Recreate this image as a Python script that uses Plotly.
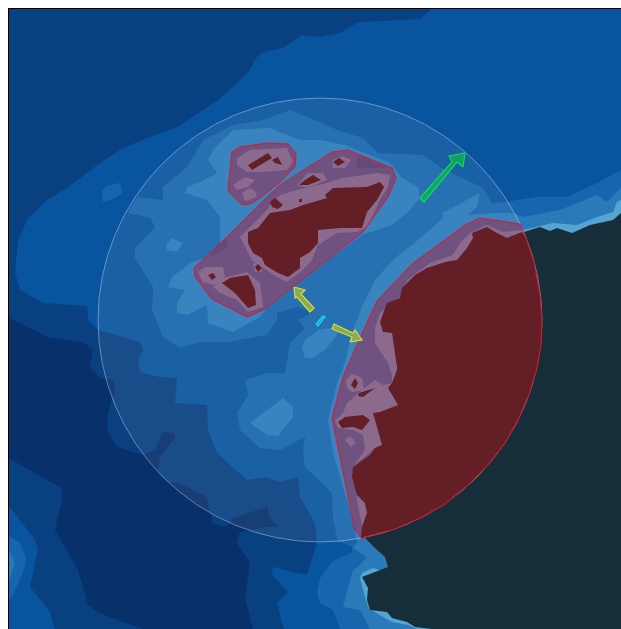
import plotly.graph_objects as go

# Map coordinates of each contour band
depth_1 = [(9,9),(431,9),(420,19),(358,22),(340,33),(320,37),(302,35),(283,48),(263,52),(257,57),(248,72),(233,87),(218,100),(200,112),(177,127),(150,137),(123,148),(100,163),(80,178),(67,188),(47,200),(28,218),(18,240),(15,273),(20,290),(43,303),(87,306),(88,313),(88,320),(98,330),(140,342),(143,350),(138,360),(140,372),(160,377),(177,378),(175,403),(207,405),(208,430),(217,453),(247,480),(267,477),(280,482),(298,477),(300,497),(315,523),(317,542),(307,575),(293,572),(273,567),(272,575),(288,592),(277,603),(283,627),(285,629),(9,629)]
depth_0 = [(9,318),(50,338),(83,342),(93,350),(90,367),(100,378),(113,380),(115,390),(108,413),(107,430),(117,447),(143,455),(155,450),(163,432),(175,433),(175,438),(160,457),(158,473),(167,482),(180,483),(207,497),(210,513),(213,523),(227,527),(233,518),(267,507),(270,518),(278,527),(267,527),(240,532),(236,542),(250,563),(245,597),(253,629),(143,629),(123,622),(100,613),(88,605),(78,570),(55,530),(62,498),(61,488),(9,458)]
corner_2 = [(9,506),(35,540),(38,550),(30,587),(50,612),(55,629),(9,629)]
corner_3 = [(9,536),(20,543),(26,557),(24,570),(13,595),(9,600)]
corner_4 = [(9,550),(15,563),(9,580)]
depth_3 = [(505,202),(537,197),(567,197),(597,183),(621,170),(621,629),(340,629),(333,610),(320,603),(317,593),(320,578),(332,562),(352,552),(352,547),(338,541),(333,520),(332,493),(305,467),(303,453),(305,437),(280,450),(260,448),(240,430),(237,413),(248,395),(245,380),(267,373),(285,373),(290,343),(305,328),(298,320),(313,312),(297,307),(277,313),(277,320),(267,335),(227,342),(200,342),(180,348),(163,337),(152,310),(153,287),(135,258),(135,248),(155,227),(150,218),(128,213),(137,197),(163,200),(163,187),(187,167),(203,140),(233,125),(263,120),(290,110),(320,122),(337,130),(363,138),(378,153),(423,155),(440,167),(483,188),(492,203)]
patch_3 = [(102,190),(107,186),(120,183),(122,193),(115,198),(103,202)]
depth_4 = [(170,283),(168,287),(185,290),(177,303),(177,313),(187,315),(197,310),(207,305),(208,323),(233,332),(260,317),(273,300),(362,235),(392,225),(408,212),(420,198),(418,187),(402,178),(390,163),(345,145),(320,140),(300,140),(270,128),(233,130),(213,150),(208,160),(217,173),(200,182),(187,187),(185,193),(207,200),(220,217),(220,247),(207,257),(190,263),(172,277)]
coast_4 = [(442,213),(467,200),(480,193),(477,207),(468,215),(493,213),(513,213),(523,217),(560,210),(597,195),(607,202),(621,188),(621,629),(370,629),(360,610),(343,607),(353,570),(360,565),(367,557),(353,548),(357,542),(353,520),(343,487),(333,453),(328,420),(337,383),(345,362),(353,330),(362,307),(375,280),(395,258),(412,245),(443,218)]
blob_a = [(302,348),(305,340),(318,330),(337,327),(337,335),(325,350),(312,358),(305,358)]
blob_b = [(250,423),(283,398),(293,407),(293,417),(278,436),(267,435)]
blob_c = [(166,245),(172,238),(183,243),(177,252),(167,250)]
coast_5 = [(523,230),(553,223),(577,225),(597,217),(613,212),(617,202),(621,200),(621,629),(417,629),(408,625),(392,622),(380,615),(369,609),(365,597),(360,578),(362,573),(373,568),(385,572),(391,563),(387,555),(378,548),(367,540)]
land = [(524,232),(540,227),(550,231),(557,228),(572,233),(590,225),(613,220),(621,213),(621,629),(432,629),(415,627),(407,622),(392,618),(387,612),(370,610),(367,600),(368,588),(362,577),(388,567),(385,557),(375,548),(365,538)]

circle_centre_x = [320]
circle_centre_y = [320]

zone_a = [(232,152),(240,147),(267,143),(288,144),(296,153),(295,167),(280,182),(260,198),(250,204),(242,205),(235,198),(228,190)]
zone_b = [(332,152),(348,150),(392,168),(396,178),(388,197),(363,232),(263,310),(247,317),(212,299),(195,277),(194,268),(227,237),(262,202),(280,185)]
zone_c = [(480,218),(520,224),(526,238),(534,262),(540,295),(542,320),(541,345),(537,368),(530,392),(519,418),(505,443),(488,465),(468,485),(445,504),(420,518),(395,529),(365,537),(362,539),(355,530),(332,418),(343,377),(360,338),(377,301),(412,264),(465,225)]

dark_b1 = [(217,245),(227,237),(227,247),(210,257)]
dark_b2 = [(357,158),(363,157),(387,167),(370,168),(357,168)]

pink_a1 = [(237,158),(250,150),(287,148),(293,162),(287,170),(263,172),(247,172),(237,165)]
pink_a2 = [(233,185),(245,177),(255,180),(248,187),(237,190)]
pink_a3 = [(242,193),(250,188),(257,193),(255,198),(245,201)]
pink_b1 = [(270,205),(280,195),(297,190),(327,183),(343,178),(377,173),(390,175),(388,187),(380,200),(367,227),(357,232),(337,233),(318,245),(312,260),(303,270),(287,282),(277,277),(263,268),(252,260),(245,247),(240,237),(250,227),(267,210)]
pink_b2 = [(297,185),(308,173),(323,173),(327,180),(307,188)]
pink_b3 = [(332,160),(343,156),(351,160),(345,168),(333,168)]
pink_b4 = [(198,272),(205,267),(223,267),(225,277),(215,285),(203,282)]
pink_b5 = [(213,287),(223,278),(247,272),(260,283),(262,297),(263,307),(248,312),(237,300),(220,293)]
pink_b6 = [(253,263),(262,263),(262,272),(255,272)]
pink_c1 = [(470,233),(487,225),(503,232),(523,230),(526,240),(450,400),(385,445),(375,448),(353,467),(365,450),(363,435),(353,430),(338,428),(335,420),(343,413),(347,403),(362,390),(375,380),(383,385),(392,383),(392,375),(388,363),(375,343),(375,328),(380,313),(400,297),(407,280),(430,263),(453,255),(460,243)]
pink_c2 = [(346,380),(352,374),(362,378),(364,390),(352,392),(347,388)]
pink_c3 = [(345,440),(350,436),(356,443),(351,447)]
pink_c4 = [(355,480),(357,495),(365,503),(367,513),(362,527),(360,515),(357,500)]

deep_a1 = [(248,165),(268,153),(272,158),(252,170)]
deep_a2 = [(272,160),(278,157),(282,165),(275,163)]
deep_b1 = [(248,232),(258,228),(270,213),(290,210),(303,205),(327,198),(325,195),(333,188),(367,187),(380,182),(384,187),(377,200),(367,212),(362,228),(340,228),(323,230),(318,230),(318,243),(310,252),(300,258),(300,268),(288,277),(278,273),(265,265),(262,258),(253,253),(248,243)]
deep_b2 = [(270,202),(275,198),(283,205),(278,209),(272,207)]
deep_b3 = [(299,185),(305,180),(313,175),(321,180),(308,185)]
deep_b4 = [(333,162),(339,158),(345,162),(338,166)]
deep_b5 = [(299,199),(302,199),(302,202),(299,202)]
deep_b6 = [(208,275),(213,273),(216,277),(212,280)]
deep_b7 = [(255,267),(258,264),(262,268),(258,272)]
deep_b8 = [(222,283),(230,278),(248,275),(255,290),(256,305),(248,308),(235,293)]
deep_c1 = [(472,233),(487,227),(497,233),(507,238),(522,232),(526,238),(534,262),(540,295),(542,320),(541,345),(537,368),(530,392),(519,418),(505,443),(488,465),(468,485),(445,504),(420,518),(395,529),(365,537),(361,538),(362,527),(367,513),(365,503),(357,495),(352,477),(353,467),(370,455),(375,448),(382,445),(377,427),(373,413),(380,412),(398,405),(388,388),(392,383),(397,370),(397,367),(392,333),(383,332),(380,322),(387,303),(400,298),(402,288),(415,275),(427,268),(445,262),(457,260),(467,248),(473,238)]
deep_c2 = [(355,378),(358,383),(355,389),(351,385)]
deep_c3 = [(359,393),(375,388),(363,397),(358,396)]
deep_c4 = [(338,422),(345,417),(363,415),(370,420),(362,430),(353,427),(342,428)]

arrow_green = [(420,198),(452,162),(449,156),(465,153),(463,167),(457,162),(424,202)]
arrow_yellow_1 = [(294,287),(305,290),(301,294),(314,308),(310,312),(297,297),(295,298)]
arrow_yellow_2 = [(332,329),(334,324),(353,333),(355,330),(362,340),(350,342),(352,337)]
arrow_cyan = [(316,324),(323,316),(325,317),(318,326)]

C0, C1, C2, C3, C4, C5 = "#08306b", "#084080", "#08549f", "#1766ad", "#2a7aba", "#55a5d2"
LAND = "#162d3a"
PURPLE, DARK_PURPLE, PINK, DEEP = "#705280", "#64497d", "#8c6a8e", "#641e25"

fig = go.Figure()


def poly(points, fill, line=None, width=0):
    xs = [p[0] for p in points] + [points[0][0]]
    ys = [p[1] for p in points] + [points[0][1]]
    fig.add_trace(go.Scatter(
        x=xs, y=ys, mode="lines", fill="toself" if fill else "none",
        fillcolor=fill, line=dict(color=line or "rgba(0,0,0,0)", width=width),
        hoverinfo="skip", showlegend=False))


for pts, col in [(depth_1, C1), (depth_0, C0), (corner_2, C2), (corner_3, C3), (corner_4, C4),
                 (depth_3, C3), (patch_3, C3), (coast_4, C4), (depth_4, C4),
                 (blob_a, C4), (blob_b, C4), (blob_c, C4), (coast_5, C5), (land, LAND)]:
    poly(pts, col)

fig.add_trace(go.Scatter(
    x=circle_centre_x, y=circle_centre_y, mode="markers",
    marker=dict(size=444, color="rgba(255,255,255,0.07)",
                line=dict(color="rgba(255,255,255,0.45)", width=0.8)),
    hoverinfo="skip", showlegend=False))

for pts in (zone_a, zone_b, zone_c):
    poly(pts, PURPLE)
for pts in (dark_b1, dark_b2):
    poly(pts, DARK_PURPLE)
for pts in (pink_a1, pink_a2, pink_a3, pink_b1, pink_b2, pink_b3, pink_b4, pink_b5, pink_b6,
            pink_c1, pink_c2, pink_c3, pink_c4):
    poly(pts, PINK)
for pts in (deep_a1, deep_a2, deep_b1, deep_b2, deep_b3, deep_b4, deep_b5, deep_b6, deep_b7, deep_b8,
            deep_c1, deep_c2, deep_c3, deep_c4):
    poly(pts, DEEP)
for pts in (zone_a, zone_b, zone_c):
    poly(pts, None, "#e0162b", 1)

poly(arrow_green, "rgba(20,165,100,0.9)", "#10d860", 1.2)
poly(arrow_yellow_1, "rgba(150,175,80,0.9)", "#d4e030", 1.2)
poly(arrow_yellow_2, "rgba(150,175,80,0.9)", "#d4e030", 1.2)
poly(arrow_cyan, "#2a9fd0", "#10d8f0", 1.2)

fig.update_layout(
    width=621, height=629, autosize=False,
    margin=dict(l=9, t=9, r=0, b=0),
    plot_bgcolor=C2, paper_bgcolor="white",
    xaxis=dict(range=[9, 621], visible=True, showgrid=False, zeroline=False, showticklabels=False,
               ticks="", side="top", showline=True, linecolor="black", linewidth=1),
    yaxis=dict(range=[629, 9], visible=True, showgrid=False, zeroline=False, showticklabels=False,
               ticks="", showline=True, linecolor="black", linewidth=1),
)
fig.write_html("out.html", config={"displayModeBar": False},
               post_script="document.body.style.margin='0';document.documentElement.style.overflow='hidden';")
